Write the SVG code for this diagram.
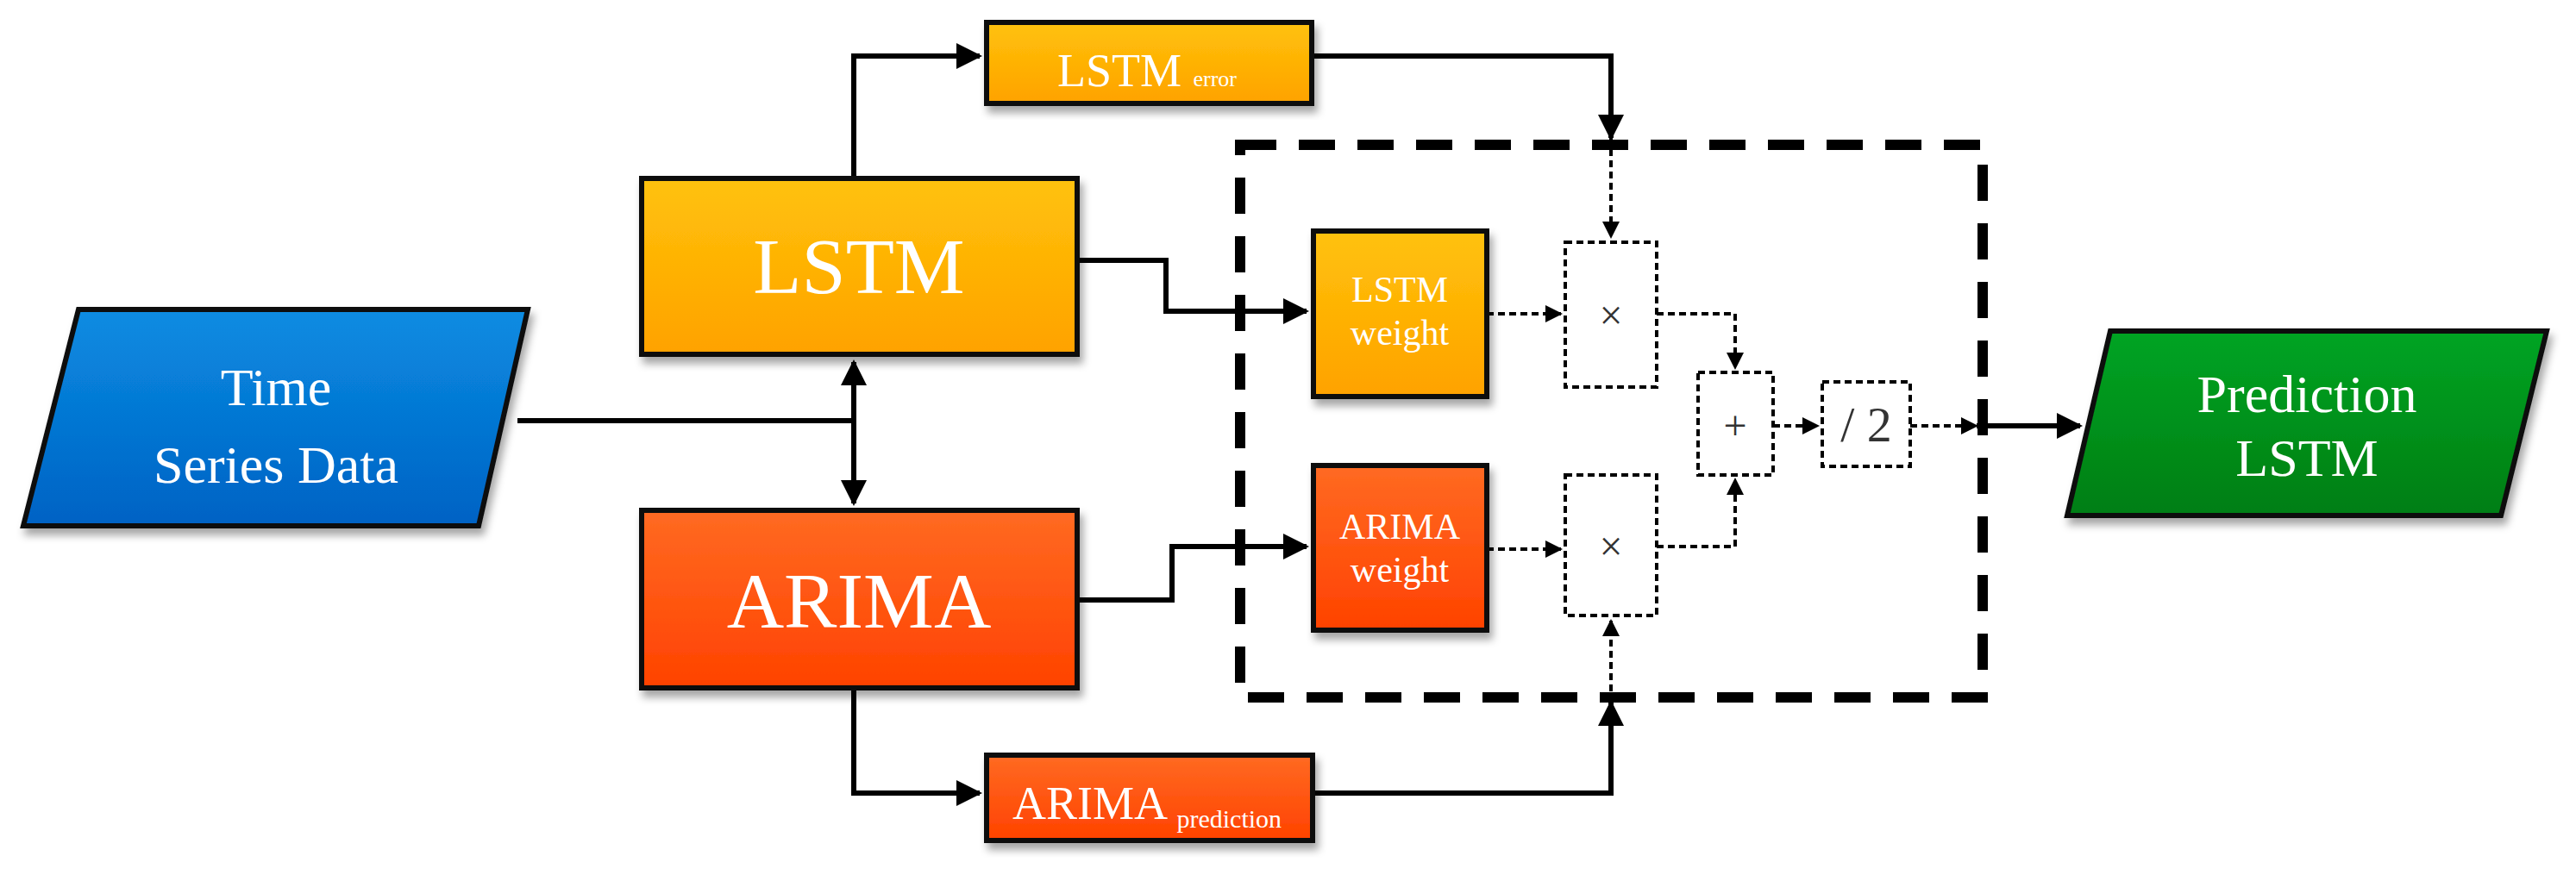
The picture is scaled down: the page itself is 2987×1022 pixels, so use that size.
<svg xmlns="http://www.w3.org/2000/svg" width="2987" height="1022" viewBox="0 0 2987 1022">
<defs>
<linearGradient id="gy" x1="0" y1="0" x2="0" y2="1"><stop offset="0" stop-color="#FFC20A"/><stop offset="1" stop-color="#FFA200"/></linearGradient>
<linearGradient id="gr" x1="0" y1="0" x2="0" y2="1"><stop offset="0" stop-color="#FF6A22"/><stop offset="1" stop-color="#FF4200"/></linearGradient>
<linearGradient id="gb" x1="0" y1="0" x2="0" y2="1"><stop offset="0" stop-color="#0A8CE2"/><stop offset="1" stop-color="#0062C4"/></linearGradient>
<linearGradient id="gg" x1="0" y1="0" x2="0" y2="1"><stop offset="0" stop-color="#00A424"/><stop offset="1" stop-color="#007E12"/></linearGradient>
<filter id="sh" x="-10%" y="-10%" width="130%" height="130%"><feDropShadow dx="4" dy="8" stdDeviation="5" flood-color="#000" flood-opacity="0.35"/></filter>
<marker id="ar" viewBox="0 0 10 10" refX="9" refY="5" markerWidth="5" markerHeight="5" orient="auto-start-reverse"><path d="M0,0 L10,5 L0,10 z" fill="#000"/></marker>
<style>
.box{stroke:#111;stroke-width:6;filter:url(#sh)}
.t{font-family:"Liberation Serif",serif;fill:#fff;text-anchor:middle}
.s{fill:none;stroke:#000;stroke-width:6}
.d{fill:none;stroke:#000;stroke-width:4;stroke-dasharray:8 5}
.op{fill:#fff;stroke:#000;stroke-width:4;stroke-dasharray:8 5}
.ot{font-family:"Liberation Serif",serif;fill:#333;text-anchor:middle}
</style>
</defs>
<g id="dashed-region"><rect x="1438" y="168" width="861" height="641" fill="none" stroke="#000" stroke-width="12" stroke-dasharray="42 26"/></g>
<g id="connectors">
<path class="s" d="M600,488 H990"/>
<path class="s" d="M990,420 V584" marker-start="url(#ar)" marker-end="url(#ar)"/>
<path class="s" d="M990,207 V65 H1136" marker-end="url(#ar)"/>
<path class="s" d="M990,798 V920 H1136" marker-end="url(#ar)"/>
<path class="s" d="M1249,302 H1352 V361 H1515" marker-end="url(#ar)"/>
<path class="s" d="M1249,696 H1359 V634 H1515" marker-end="url(#ar)"/>
<path class="s" d="M1521,65 H1868 V160" marker-end="url(#ar)"/>
<path class="d" d="M1868,160 V275" marker-end="url(#ar)"/>
<path class="s" d="M1522,920 H1868 V815" marker-end="url(#ar)"/>
<path class="d" d="M1868,815 V720" marker-end="url(#ar)"/>
<path class="d" d="M1724,364 H1810" marker-end="url(#ar)"/>
<path class="d" d="M1724,637 H1810" marker-end="url(#ar)"/>
<path class="d" d="M1921,364 H2012 V427" marker-end="url(#ar)"/>
<path class="d" d="M1921,634 H2012 V556" marker-end="url(#ar)"/>
<path class="d" d="M2056,494 H2108" marker-end="url(#ar)"/>
<path class="d" d="M2215,494 H2292" marker-end="url(#ar)"/>
<path class="s" d="M2292,494 H2412" marker-end="url(#ar)"/>
</g>
<g id="time-series"><polygon class="box" fill="url(#gb)" points="91,359 612,359 555,610 27,610"/>
<text class="t" x="320" y="470" font-size="62">Time</text><text class="t" x="320" y="560" font-size="62">Series  Data</text></g>
<g id="lstm"><rect class="box" fill="url(#gy)" x="744" y="207" width="505" height="204"/><text class="t" x="996" y="340" font-size="92">LSTM</text></g>
<g id="arima"><rect class="box" fill="url(#gr)" x="744" y="592" width="505" height="206"/><text class="t" x="996" y="728" font-size="92">ARIMA</text></g>
<g id="lstm-error"><rect class="box" fill="url(#gy)" x="1144" y="26" width="377" height="94"/><text class="t" x="1330" y="100" font-size="54">LSTM <tspan font-size="26">error</tspan></text></g>
<g id="arima-prediction"><rect class="box" fill="url(#gr)" x="1144" y="876" width="378" height="99"/><text class="t" x="1330" y="950" font-size="54">ARIMA <tspan font-size="30" dy="10">prediction</tspan></text></g>
<g id="lstm-weight"><rect class="box" fill="url(#gy)" x="1523" y="268" width="201" height="192"/><text class="t" x="1623" y="350" font-size="42">LSTM</text><text class="t" x="1623" y="400" font-size="42">weight</text></g>
<g id="arima-weight"><rect class="box" fill="url(#gr)" x="1523" y="540" width="201" height="191"/><text class="t" x="1623" y="625" font-size="42">ARIMA</text><text class="t" x="1623" y="675" font-size="42">weight</text></g>
<g id="mul-top"><rect class="op" x="1815" y="281" width="106" height="168"/><text class="ot" x="1868" y="382" font-size="48">×</text></g>
<g id="mul-bottom"><rect class="op" x="1815" y="551" width="106" height="163"/><text class="ot" x="1868" y="650" font-size="48">×</text></g>
<g id="plus"><rect class="op" x="1969" y="432" width="87" height="119"/><text class="ot" x="2012" y="510" font-size="48" fill="#446">+</text></g>
<g id="div2"><rect class="op" x="2113" y="443" width="102" height="98"/><text class="ot" x="2164" y="512" font-size="58">/ 2</text></g>
<g id="prediction"><polygon class="box" fill="url(#gg)" points="2447,384 2953,384 2900,598 2397,598"/>
<text class="t" x="2675" y="478" font-size="62">Prediction</text><text class="t" x="2675" y="552" font-size="62">LSTM</text></g>
</svg>
